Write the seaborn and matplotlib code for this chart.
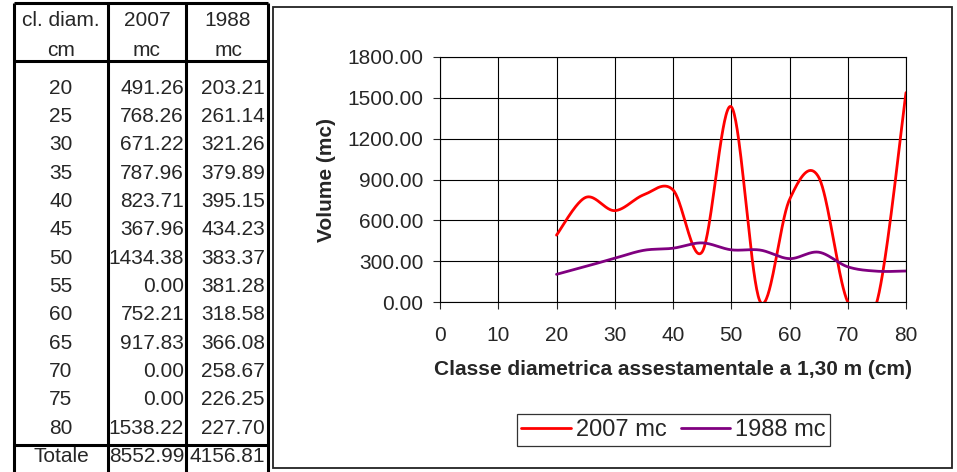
import numpy as np
import pandas as pd
import matplotlib.pyplot as plt
import seaborn as sns
from matplotlib.patches import Rectangle
from matplotlib.ticker import FuncFormatter

classes = [20, 25, 30, 35, 40, 45, 50, 55, 60, 65, 70, 75, 80]
vol_2007 = [491.26, 768.26, 671.22, 787.96, 823.71, 367.96, 1434.38,
            0.00, 752.21, 917.83, 0.00, 0.00, 1538.22]
vol_1988 = [203.21, 261.14, 321.26, 379.89, 395.15, 434.23, 383.37,
            381.28, 318.58, 366.08, 258.67, 226.25, 227.70]
totals = ['8552.99', '4156.81']
header_top = ['cl. diam.', '2007', '1988']
header_bottom = ['cm', 'mc', 'mc']


def smooth(x, y, n=40):
    # Excel-style smoothed line: Catmull-Rom Bezier through the points
    p = np.column_stack([x, y]).astype(float)
    out = []
    for i in range(len(p) - 1):
        p0 = p[i - 1] if i > 0 else p[i]
        p1, p2 = p[i], p[i + 1]
        p3 = p[i + 2] if i + 2 < len(p) else p[i + 1]
        c1 = p1 + (p2 - p0) / 6
        c2 = p2 - (p3 - p1) / 6
        t = np.linspace(0, 1, n)[:, None]
        seg = ((1 - t) ** 3) * p1 + 3 * ((1 - t) ** 2) * t * c1 + 3 * (1 - t) * t ** 2 * c2 + t ** 3 * p2
        out.append(seg if i == 0 else seg[1:])
    return np.vstack(out)


sns.set_style('white')
plt.rcParams['font.family'] = ['Liberation Sans', 'DejaVu Sans']

fig = plt.figure(figsize=(9.57, 4.72), dpi=100)

# --- table on the left, drawn in pixel coordinates ---
tab = fig.add_axes([0, 0, 1, 1])
tab.set_xlim(0, 957)
tab.set_ylim(472, 0)
tab.axis('off')

col_x = [14, 108, 186, 268]
for cx in col_x:
    tab.plot([cx, cx], [2.5, 472], color='black', lw=2.2, solid_capstyle='butt')
for hy in [2.5, 61, 445]:
    tab.plot([col_x[0], col_x[-1]], [hy, hy], color='black', lw=2.2, solid_capstyle='butt')

fs_tab = 15
centers = [61, 147, 228]
for j in range(3):
    tab.text(centers[j], 20, header_top[j], ha='center', va='center', fontsize=fs_tab)
    tab.text(centers[j], 50, header_bottom[j], ha='center', va='center', fontsize=fs_tab)

for i, c in enumerate(classes):
    y = 88.3 + i * 28.33
    tab.text(61, y, str(c), ha='center', va='center', fontsize=fs_tab)
    tab.text(184, y, f'{vol_2007[i]:.2f}', ha='right', va='center', fontsize=fs_tab)
    tab.text(265, y, f'{vol_1988[i]:.2f}', ha='right', va='center', fontsize=fs_tab)

tab.text(61, 457, 'Totale', ha='center', va='center', fontsize=fs_tab)
tab.text(184, 457, totals[0], ha='right', va='center', fontsize=fs_tab)
tab.text(265, 457, totals[1], ha='right', va='center', fontsize=fs_tab)

# chart area frame
tab.add_patch(Rectangle((273, 7), 679, 461, fill=False, edgecolor='#222222', lw=1.3))

# --- line chart ---
ax = fig.add_axes([440 / 957, 1 - 302 / 472, (906 - 440) / 957, (302 - 57) / 472])

curve07 = smooth(classes, vol_2007)
curve88 = smooth(classes, vol_1988)
df07 = pd.DataFrame({'x': curve07[:, 0], 'y': curve07[:, 1]})
df88 = pd.DataFrame({'x': curve88[:, 0], 'y': curve88[:, 1]})

sns.lineplot(data=df07, x='x', y='y', sort=False, estimator=None, ax=ax,
             color='#FF0000', lw=2.0, label='2007 mc')
sns.lineplot(data=df88, x='x', y='y', sort=False, estimator=None, ax=ax,
             color='#800080', lw=2.0, label='1988 mc')

ax.set_xlim(0, 80)
ax.set_ylim(0, 1800)
ax.set_xticks(range(0, 81, 10))
ax.set_yticks(range(0, 1801, 300))
ax.yaxis.set_major_formatter(FuncFormatter(lambda v, p: f'{v:.2f}'))
ax.grid(True, color='black', lw=0.8)
for s in ax.spines.values():
    s.set_color('black')
    s.set_linewidth(0.8)
ax.tick_params(axis='x', length=5, width=0.8, pad=12, labelsize=15, direction='out', bottom=True)
ax.tick_params(axis='y', length=5, width=0.8, pad=7, labelsize=15, direction='out', left=True)

ax.set_xlabel('Classe diametrica assestamentale a 1,30 m (cm)', fontsize=15,
              fontweight='bold', labelpad=11)
ax.set_ylabel('Volume (mc)', fontsize=15, fontweight='bold', labelpad=8)

leg = ax.legend(loc='center', bbox_to_anchor=(673.5 / 957, 1 - 430 / 472),
                bbox_transform=fig.transFigure, ncol=2, fontsize=17,
                frameon=True, fancybox=False, handlelength=2.1,
                handletextpad=0.2, columnspacing=0.6, borderpad=0.2,
                borderaxespad=0)
leg.get_frame().set_edgecolor('black')
leg.get_frame().set_linewidth(0.9)

fig.savefig('out.png', dpi=100)
